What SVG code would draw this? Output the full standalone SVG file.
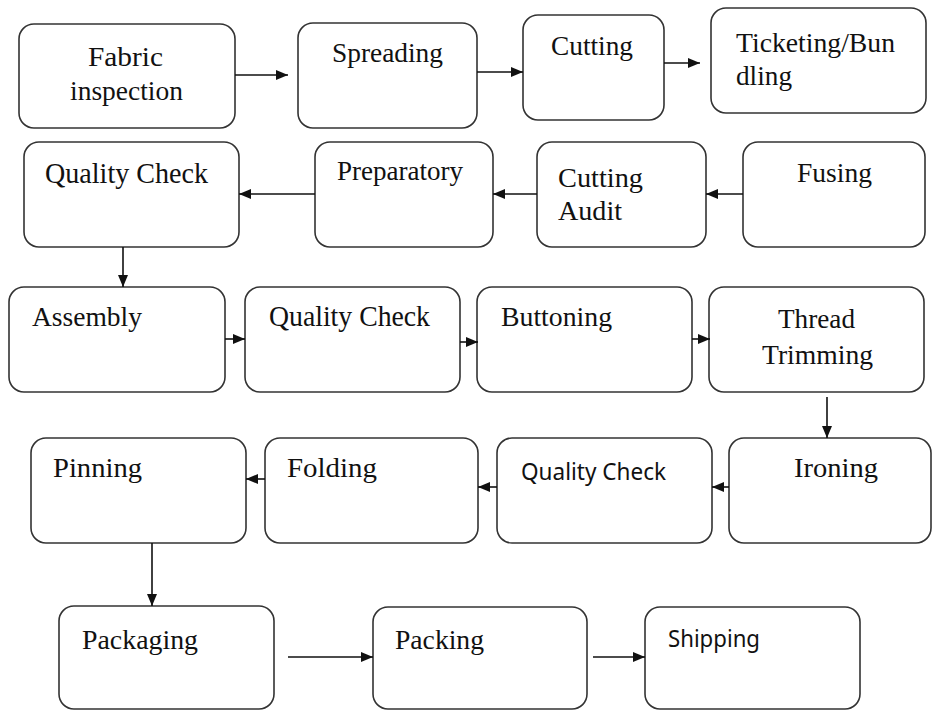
<svg xmlns="http://www.w3.org/2000/svg" width="933" height="710" viewBox="0 0 933 710">
<style>
.b{fill:#fff;stroke:#333;stroke-width:1.6}
.t{font-family:"Liberation Serif","Times New Roman",serif;font-size:28px;fill:#111}
.q{font-size:30px}
.s{font-family:"Noto Sans","Open Sans",sans-serif;font-size:23px;fill:#111}
.c line{stroke:#111;stroke-width:1.6;marker-end:url(#ah)}
</style>
<defs>
<marker id="ah" markerUnits="userSpaceOnUse" markerWidth="12" markerHeight="10" refX="12" refY="5" orient="auto">
<path d="M0,0 L12,5 L0,10 z" fill="#111"/>
</marker>
</defs>
<rect width="933" height="710" fill="#fff"/>
<g id="n1"><rect class="b" x="19" y="24" width="216" height="104" rx="15"/><text class="t" x="88" y="66" textLength="75" lengthAdjust="spacingAndGlyphs">Fabric</text><text class="t" x="70" y="100" textLength="113" lengthAdjust="spacingAndGlyphs">inspection</text></g>
<g id="n2"><rect class="b" x="298" y="23" width="179" height="105" rx="15"/><text class="t" x="332" y="62" textLength="111" lengthAdjust="spacingAndGlyphs">Spreading</text></g>
<g id="n3"><rect class="b" x="523" y="15" width="141" height="105" rx="15"/><text class="t" x="551" y="55" textLength="82" lengthAdjust="spacingAndGlyphs">Cutting</text></g>
<g id="n4"><rect class="b" x="711" y="8" width="215" height="105" rx="15"/><text class="t" x="736" y="52" textLength="159" lengthAdjust="spacingAndGlyphs">Ticketing/Bun</text><text class="t" x="736" y="85" textLength="56" lengthAdjust="spacingAndGlyphs">dling</text></g>
<g id="n5"><rect class="b" x="24" y="142" width="215" height="105" rx="15"/><text class="t q" x="45" y="183" textLength="163" lengthAdjust="spacingAndGlyphs">Quality Check</text></g>
<g id="n6"><rect class="b" x="315" y="142" width="178" height="105" rx="15"/><text class="t" x="337" y="180" textLength="126" lengthAdjust="spacingAndGlyphs">Preparatory</text></g>
<g id="n7"><rect class="b" x="537" y="142" width="169" height="105" rx="15"/><text class="t" x="558" y="187" textLength="85" lengthAdjust="spacingAndGlyphs">Cutting</text><text class="t" x="558" y="220" textLength="64" lengthAdjust="spacingAndGlyphs">Audit</text></g>
<g id="n8"><rect class="b" x="743" y="142" width="182" height="105" rx="15"/><text class="t" x="797" y="182" textLength="75" lengthAdjust="spacingAndGlyphs">Fusing</text></g>
<g id="n9"><rect class="b" x="9" y="287" width="216" height="105" rx="15"/><text class="t" x="32" y="326" textLength="110" lengthAdjust="spacingAndGlyphs">Assembly</text></g>
<g id="n10"><rect class="b" x="245" y="287" width="215" height="105" rx="15"/><text class="t q" x="269" y="326" textLength="161" lengthAdjust="spacingAndGlyphs">Quality Check</text></g>
<g id="n11"><rect class="b" x="477" y="287" width="215" height="105" rx="15"/><text class="t" x="501" y="326" textLength="111" lengthAdjust="spacingAndGlyphs">Buttoning</text></g>
<g id="n12"><rect class="b" x="709" y="287" width="215" height="105" rx="15"/><text class="t" x="778" y="328" textLength="77" lengthAdjust="spacingAndGlyphs">Thread</text><text class="t" x="762" y="364" textLength="111" lengthAdjust="spacingAndGlyphs">Trimming</text></g>
<g id="n13"><rect class="b" x="31" y="438" width="215" height="105" rx="15"/><text class="t" x="53" y="477" textLength="89" lengthAdjust="spacingAndGlyphs">Pinning</text></g>
<g id="n14"><rect class="b" x="265" y="438" width="213" height="105" rx="15"/><text class="t" x="287" y="477" textLength="90" lengthAdjust="spacingAndGlyphs">Folding</text></g>
<g id="n15"><rect class="b" x="497" y="438" width="215" height="105" rx="15"/><text class="s" x="521" y="480" textLength="145" lengthAdjust="spacingAndGlyphs">Quality Check</text></g>
<g id="n16"><rect class="b" x="729" y="438" width="202" height="105" rx="15"/><text class="t" x="794" y="477" textLength="84" lengthAdjust="spacingAndGlyphs">Ironing</text></g>
<g id="n17"><rect class="b" x="59" y="606" width="215" height="103" rx="15"/><text class="t" x="82" y="649" textLength="116" lengthAdjust="spacingAndGlyphs">Packaging</text></g>
<g id="n18"><rect class="b" x="373" y="607" width="214" height="102" rx="15"/><text class="t" x="395" y="649" textLength="89" lengthAdjust="spacingAndGlyphs">Packing</text></g>
<g id="n19"><rect class="b" x="645" y="607" width="215" height="102" rx="15"/><text class="s" x="668" y="647" textLength="92" lengthAdjust="spacingAndGlyphs">Shipping</text></g>
<g id="connectors" class="c">
<line x1="235" y1="75" x2="288" y2="75"/>
<line x1="477" y1="72" x2="523" y2="72"/>
<line x1="664" y1="63" x2="700" y2="63"/>
<line x1="315" y1="194" x2="239" y2="194"/>
<line x1="537" y1="194" x2="493" y2="194"/>
<line x1="743" y1="194" x2="706" y2="194"/>
<line x1="123" y1="247" x2="123" y2="287"/>
<line x1="225" y1="339" x2="245" y2="339"/>
<line x1="460" y1="342" x2="478" y2="342"/>
<line x1="692" y1="339" x2="710" y2="339"/>
<line x1="827" y1="397" x2="827" y2="438"/>
<line x1="265" y1="479" x2="246" y2="479"/>
<line x1="497" y1="487" x2="478" y2="487"/>
<line x1="729" y1="487" x2="712" y2="487"/>
<line x1="152" y1="543" x2="152" y2="606"/>
<line x1="288" y1="657" x2="373" y2="657"/>
<line x1="593" y1="657" x2="645" y2="657"/>
</g>
</svg>
